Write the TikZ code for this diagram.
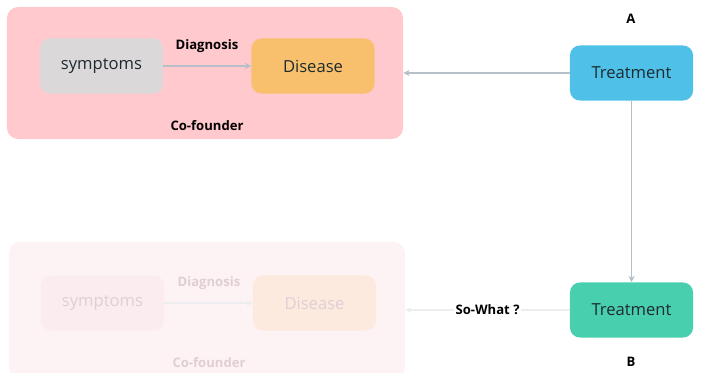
\documentclass[tikz,border=0pt]{standalone}
\usepackage{fontspec}
\setmainfont{Open Sans}
\usetikzlibrary{arrows.meta}

\definecolor{pinkbg}{HTML}{FFC9CE}
\definecolor{pinkfade}{HTML}{FEF3F4}
\definecolor{greybox}{HTML}{DAD8D9}
\definecolor{greyfade}{HTML}{FBEDEF}
\definecolor{orangebox}{HTML}{F8C06D}
\definecolor{orangefade}{HTML}{FDEADF}
\definecolor{bluebox}{HTML}{4FC1E8}
\definecolor{greenbox}{HTML}{48CFAE}
\definecolor{arrowgrey}{HTML}{B5BFC8}
\definecolor{arrowfade}{HTML}{EDEDEF}
\definecolor{textfade}{HTML}{DFCFD2}
\definecolor{textdark}{HTML}{1E2A2E}

\tikzset{
  box/.style={rounded corners=7pt, minimum width=3.075cm, minimum height=1.375cm,
    inner sep=0pt, font=\fontsize{11.8}{13}\selectfont, text=textdark},
  panel/.style={rounded corners=8pt, inner sep=0pt},
  tag/.style={font=\bfseries\fontsize{9.3}{11}\selectfont, inner sep=1pt},
  link/.style={-{Stealth[length=4.5pt,width=4.5pt]}, line width=1.2pt, draw=arrowgrey},
}

\begin{document}
\begin{tikzpicture}[x=0.025cm, y=-0.025cm]
    \useasboundingbox (0,0) rectangle (702,373);

    % top panel
    \node[panel, fill=pinkbg, minimum width=9.9cm, minimum height=3.3cm] (p0) at (205, 73) {};
    \node[box, fill=greybox] (s0) at (101.5, 66) {symptoms};
    \node[box, fill=orangebox] (d0) at (313, 66) {Disease};
    \node[tag] (g0) at (207, 46) {Diagnosis};
    \node[tag] (c0) at (207, 126) {Co-founder};

    % faded panel
    \node[panel, fill=pinkfade, minimum width=9.9cm, minimum height=3.4cm] (p1) at (207, 310) {};
    \node[box, fill=greyfade, text=textfade] (s1) at (102.5, 303) {symptoms};
    \node[box, fill=orangefade, text=textfade] (d1) at (314.5, 303) {Disease};
    \node[tag, text=textfade] (g1) at (209, 283) {Diagnosis};
    \node[tag, text=textfade] (c1) at (209, 363) {Co-founder};

    % treatments
    \node[box, fill=bluebox] (ta) at (631.5, 73) {Treatment};
    \node[box, fill=greenbox] (tb) at (631.5, 310) {Treatment};
    \node[tag] (la) at (631, 19) {A};
    \node[tag] (lb) at (631, 362) {B};

    \draw[link] (s0) -- (d0);
    \draw[link, draw=arrowfade] (s1) -- (d1);
    \draw[link] (ta) -- (p0);
    \draw[link] (ta) -- (tb);
    \draw[link, draw=arrowfade] (tb) -- (p1) node[tag, midway, fill=white, text=black] (sw) {So-What ?};
\end{tikzpicture}
\end{document}
